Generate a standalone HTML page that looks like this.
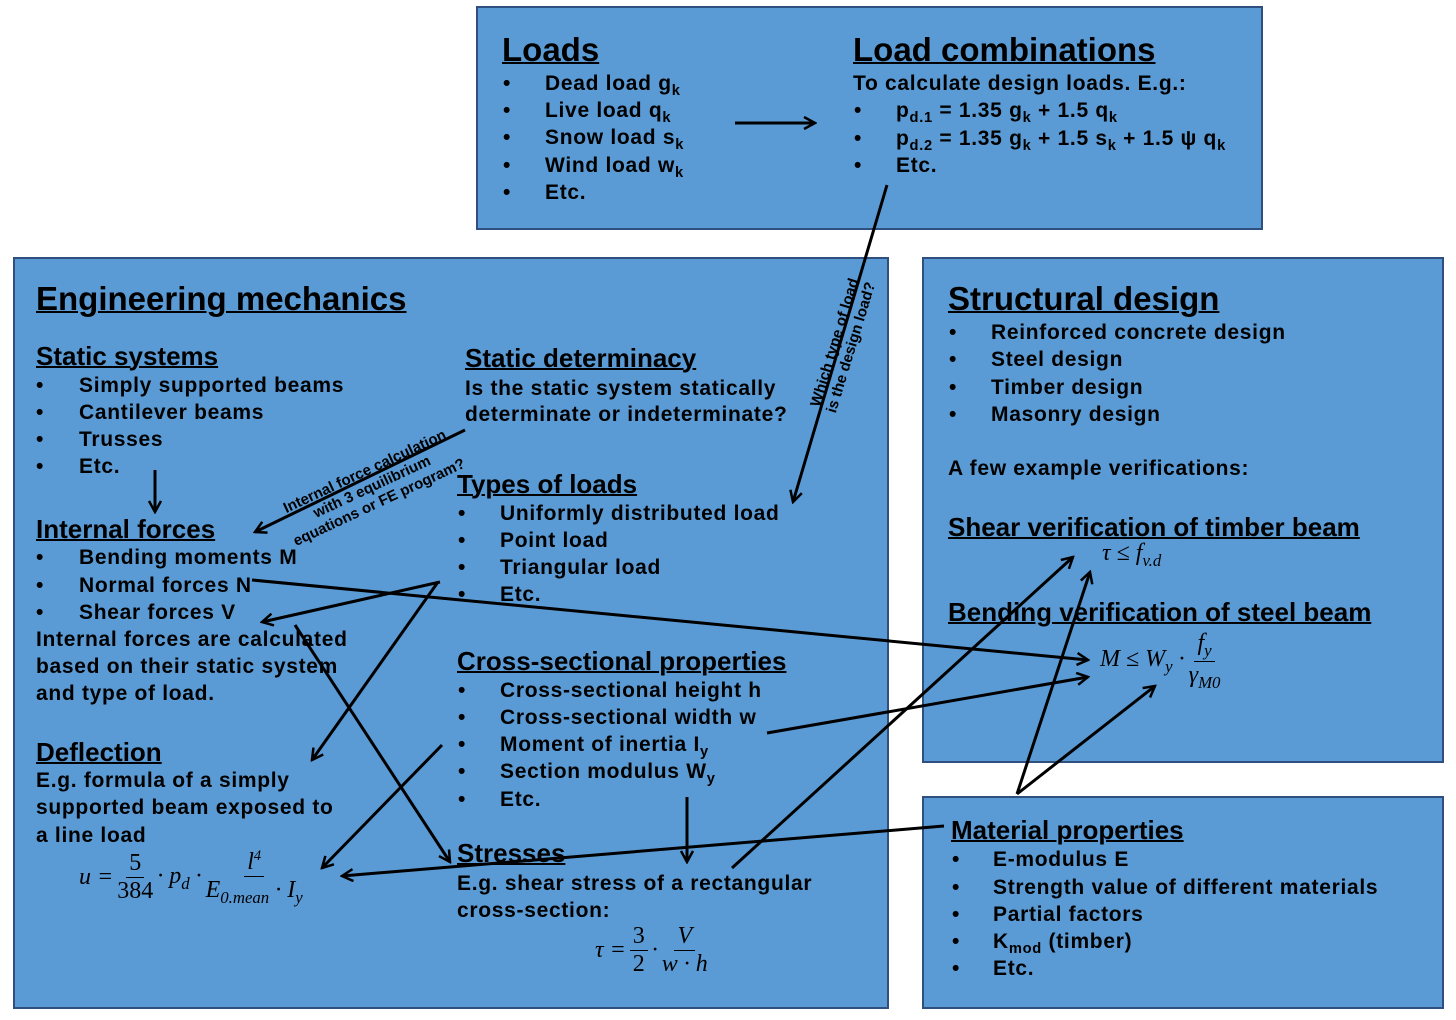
<!DOCTYPE html>
<html><head><meta charset="utf-8"><style>
body{margin:0;width:1456px;height:1020px;background:#fff;position:relative;overflow:hidden;font-family:"Liberation Sans",sans-serif;font-weight:bold;color:#000}
.box{position:absolute;background:#5b9bd5;border:2px solid #2f4f7f;box-sizing:border-box}
.t{position:absolute;font-size:21px;line-height:26px;white-space:nowrap;letter-spacing:0.7px}
.h{position:absolute;font-size:26px;line-height:32px;text-decoration:underline;white-space:nowrap;text-decoration-thickness:2px}
.H{position:absolute;font-size:33px;line-height:38px;text-decoration:underline;white-space:nowrap;text-decoration-thickness:2px}
.m{position:absolute;font-family:"Liberation Serif",serif;font-style:italic;font-weight:normal;font-size:24px;white-space:nowrap;display:flex;align-items:center}
.m>span{margin:0 2px}
.fr{display:inline-flex;flex-direction:column;align-items:center;margin:0 3px}
.fr>span:first-child{border-bottom:1.5px solid #000;padding:0 3px}
.up{font-style:normal}
sub{font-size:70%}
</style></head><body>
<div class="box" style="left:476px;top:6px;width:787px;height:224px"></div>
<div class="box" style="left:13px;top:257px;width:876px;height:752px"></div>
<div class="box" style="left:922px;top:257px;width:522px;height:506px"></div>
<div class="box" style="left:922px;top:796px;width:522px;height:213px"></div>

<div class="H" style="left:502px;top:31px">Loads</div>
<div class="t" style="left:503px;top:71px">•</div><div class="t" style="left:545px;top:71px">Dead load g<sub>k</sub></div>
<div class="t" style="left:503px;top:98px">•</div><div class="t" style="left:545px;top:98px">Live load q<sub>k</sub></div>
<div class="t" style="left:503px;top:125px">•</div><div class="t" style="left:545px;top:125px">Snow load s<sub>k</sub></div>
<div class="t" style="left:503px;top:153px">•</div><div class="t" style="left:545px;top:153px">Wind load w<sub>k</sub></div>
<div class="t" style="left:503px;top:180px">•</div><div class="t" style="left:545px;top:180px">Etc.</div>
<div class="H" style="left:853px;top:31px">Load combinations</div>
<div class="t" style="left:853px;top:71px">To calculate design loads. E.g.:</div>
<div class="t" style="left:854px;top:98px">•</div><div class="t" style="left:896px;top:98px">p<sub>d.1</sub> = 1.35 g<sub>k</sub> + 1.5 q<sub>k</sub></div>
<div class="t" style="left:854px;top:126px">•</div><div class="t" style="left:896px;top:126px">p<sub>d.2</sub> = 1.35 g<sub>k</sub> + 1.5 s<sub>k</sub> + 1.5 ψ q<sub>k</sub></div>
<div class="t" style="left:854px;top:153px">•</div><div class="t" style="left:896px;top:153px">Etc.</div>

<div class="H" style="left:36px;top:280px">Engineering mechanics</div>
<div class="h" style="left:36px;top:340px">Static systems</div>
<div class="t" style="left:36px;top:373px">•</div><div class="t" style="left:79px;top:373px">Simply supported beams</div>
<div class="t" style="left:36px;top:400px">•</div><div class="t" style="left:79px;top:400px">Cantilever beams</div>
<div class="t" style="left:36px;top:427px">•</div><div class="t" style="left:79px;top:427px">Trusses</div>
<div class="t" style="left:36px;top:454px">•</div><div class="t" style="left:79px;top:454px">Etc.</div>
<div class="h" style="left:36px;top:513px">Internal forces</div>
<div class="t" style="left:36px;top:545px">•</div><div class="t" style="left:79px;top:545px">Bending moments M</div>
<div class="t" style="left:36px;top:573px">•</div><div class="t" style="left:79px;top:573px">Normal forces N</div>
<div class="t" style="left:36px;top:600px">•</div><div class="t" style="left:79px;top:600px">Shear forces V</div>
<div class="t" style="left:36px;top:627px">Internal forces are calculated</div>
<div class="t" style="left:36px;top:654px">based on their static system</div>
<div class="t" style="left:36px;top:681px">and type of load.</div>
<div class="h" style="left:36px;top:736px">Deflection</div>
<div class="t" style="left:36px;top:768px">E.g. formula of a simply</div>
<div class="t" style="left:36px;top:795px">supported beam exposed to</div>
<div class="t" style="left:36px;top:823px">a line load</div>
<div class="m" style="left:77px;top:848px"><span>u =</span><span class="fr"><span class="up">5</span><span class="up">384</span></span><span>· p<sub>d</sub> ·</span><span class="fr"><span>l<sup style="font-size:60%">4</sup></span><span>E<sub>0.mean</sub> · I<sub>y</sub></span></span></div>

<div class="h" style="left:465px;top:342px">Static determinacy</div>
<div class="t" style="left:465px;top:376px">Is the static system statically</div>
<div class="t" style="left:465px;top:402px">determinate or indeterminate?</div>
<div class="h" style="left:457px;top:468px">Types of loads</div>
<div class="t" style="left:458px;top:501px">•</div><div class="t" style="left:500px;top:501px">Uniformly distributed load</div>
<div class="t" style="left:458px;top:528px">•</div><div class="t" style="left:500px;top:528px">Point load</div>
<div class="t" style="left:458px;top:555px">•</div><div class="t" style="left:500px;top:555px">Triangular load</div>
<div class="t" style="left:458px;top:582px">•</div><div class="t" style="left:500px;top:582px">Etc.</div>
<div class="h" style="left:457px;top:645px">Cross-sectional properties</div>
<div class="t" style="left:458px;top:678px">•</div><div class="t" style="left:500px;top:678px">Cross-sectional height h</div>
<div class="t" style="left:458px;top:705px">•</div><div class="t" style="left:500px;top:705px">Cross-sectional width w</div>
<div class="t" style="left:458px;top:732px">•</div><div class="t" style="left:500px;top:732px">Moment of inertia I<sub>y</sub></div>
<div class="t" style="left:458px;top:759px">•</div><div class="t" style="left:500px;top:759px">Section modulus W<sub>y</sub></div>
<div class="t" style="left:458px;top:787px">•</div><div class="t" style="left:500px;top:787px">Etc.</div>
<div class="h" style="left:457px;top:837px">Stresses</div>
<div class="t" style="left:457px;top:871px">E.g. shear stress of a rectangular</div>
<div class="t" style="left:457px;top:898px">cross-section:</div>
<div class="m" style="left:593px;top:923px"><span>τ =</span><span class="fr"><span class="up">3</span><span class="up">2</span></span><span>·</span><span class="fr"><span>V</span><span>w · h</span></span></div>

<div class="H" style="left:948px;top:280px">Structural design</div>
<div class="t" style="left:949px;top:320px">•</div><div class="t" style="left:991px;top:320px">Reinforced concrete design</div>
<div class="t" style="left:949px;top:347px">•</div><div class="t" style="left:991px;top:347px">Steel design</div>
<div class="t" style="left:949px;top:375px">•</div><div class="t" style="left:991px;top:375px">Timber design</div>
<div class="t" style="left:949px;top:402px">•</div><div class="t" style="left:991px;top:402px">Masonry design</div>
<div class="t" style="left:948px;top:456px">A few example verifications:</div>
<div class="h" style="left:948px;top:511px">Shear verification of timber beam</div>
<div class="m" style="left:1100px;top:540px"><span>τ ≤ f<sub>v.d</sub></span></div>
<div class="h" style="left:948px;top:596px">Bending verification of steel beam</div>
<div class="m" style="left:1098px;top:630px"><span>M ≤ W<sub>y</sub> ·</span><span class="fr"><span>f<sub>y</sub></span><span>γ<sub>M0</sub></span></span></div>

<div class="h" style="left:951px;top:814px">Material properties</div>
<div class="t" style="left:952px;top:847px">•</div><div class="t" style="left:993px;top:847px">E-modulus E</div>
<div class="t" style="left:952px;top:875px">•</div><div class="t" style="left:993px;top:875px">Strength value of different materials</div>
<div class="t" style="left:952px;top:902px">•</div><div class="t" style="left:993px;top:902px">Partial factors</div>
<div class="t" style="left:952px;top:929px">•</div><div class="t" style="left:993px;top:929px">K<sub>mod</sub> (timber)</div>
<div class="t" style="left:952px;top:956px">•</div><div class="t" style="left:993px;top:956px">Etc.</div>

<div class="t" style="left:843px;top:345px;font-size:15px;line-height:17px;letter-spacing:0;text-align:center;transform:translate(-50%,-50%) rotate(-73deg)">Which type of load<br>is the design load?</div>
<div class="t" style="left:372px;top:487px;font-size:15px;line-height:17px;letter-spacing:0;text-align:center;transform:translate(-50%,-50%) rotate(-25deg)">Internal force calculation<br>with 3 equilibrium<br>equations or FE program?</div>

<svg width="1456" height="1020" style="position:absolute;left:0;top:0">
<defs><marker id="a" markerWidth="14" markerHeight="14" refX="12" refY="7" orient="auto" markerUnits="userSpaceOnUse"><path d="M1,1 L12,7 L1,13" fill="none" stroke="#000" stroke-width="2.5"/></marker></defs>
<g stroke="#000" stroke-width="3" fill="none" marker-end="url(#a)">
<line x1="735" y1="123" x2="815" y2="123"/>
<line x1="887" y1="185" x2="793" y2="502"/>
<line x1="465" y1="430" x2="255" y2="532"/>
<line x1="155" y1="470" x2="155" y2="512"/>
<line x1="440" y1="582" x2="262" y2="622"/>
<line x1="438" y1="582" x2="312" y2="760"/>
<line x1="252" y1="580" x2="1088" y2="660"/>
<line x1="295" y1="625" x2="450" y2="862"/>
<line x1="442" y1="745" x2="322" y2="868"/>
<line x1="944" y1="826" x2="342" y2="876"/>
<line x1="687" y1="797" x2="687" y2="862"/>
<line x1="732" y1="868" x2="1073" y2="557"/>
<line x1="767" y1="733" x2="1088" y2="677"/>
<line x1="1017" y1="794" x2="1090" y2="572"/>
<line x1="1017" y1="794" x2="1155" y2="686"/>
</g></svg>
</body></html>
